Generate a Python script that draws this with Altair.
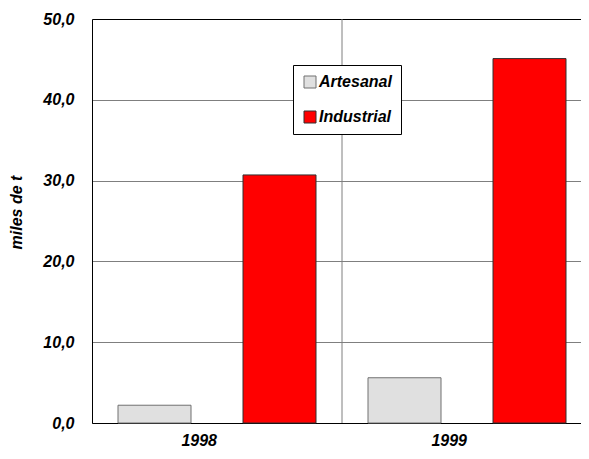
import altair as alt
import pandas as pd

years = ["1998", "1999"]
series = ["Artesanal", "Industrial"]
artesanal = [2.2, 5.6]
industrial = [30.7, 45.1]
y_ticks = [0, 10, 20, 30, 40, 50]

rows = []
for i, yr in enumerate(years):
    rows.append({"year": yr, "tipo": series[0], "value": artesanal[i]})
    rows.append({"year": yr, "tipo": series[1], "value": industrial[i]})
df = pd.DataFrame(rows)
sep = pd.DataFrame({"year": [years[1]]})

FONT = "Liberation Sans"

xscale = alt.Scale(domain=years, range=[0, 500], paddingInner=0, paddingOuter=0)

bars = alt.Chart(df).mark_bar(strokeWidth=1).encode(
    x=alt.X("year:N", scale=xscale, sort=years,
            axis=alt.Axis(title=None, labelAngle=0, ticks=False, tickSize=0,
                          labelFont=FONT, labelFontSize=16, labelFontWeight="bold",
                          labelFontStyle="italic", labelColor="black", labelPadding=17,
                          domainColor="black", domainWidth=1, grid=False)),
    xOffset=alt.XOffset("tipo:N", sort=series,
                        scale=alt.Scale(paddingInner=0.416, paddingOuter=0.208)),
    y=alt.Y("value:Q",
            scale=alt.Scale(domain=[0, 50], nice=False),
            axis=alt.Axis(title="miles de t", values=y_ticks,
                          labelExpr="replace(format(datum.value, '.1f'), '.', ',')",
                          ticks=False, tickSize=0,
                          labelFont=FONT, labelFontSize=16, labelFontWeight="bold",
                          labelFontStyle="italic", labelColor="black", labelPadding=18,
                          titleFont=FONT, titleFontSize=16, titleFontWeight="bold",
                          titleFontStyle="italic", titleColor="black",
                          titleAngle=270, titleBaseline="middle", titleAlign="center",
                          titleX=-76, titleY=193,
                          domainColor="black", domainWidth=1,
                          grid=True, gridWidth=1,
                          gridColor=alt.ExprRef("datum.value >= 50 ? 'black' : '#7f7f7f'"))),
    color=alt.Color("tipo:N", sort=series,
                    scale=alt.Scale(domain=series, range=["#e0e0e0", "#ff0000"]),
                    legend=alt.Legend(title=None, orient="none", legendX=201, legendY=46,
                                      strokeColor="black", fillColor="white", padding=9,
                                      labelFont=FONT, labelFontSize=16, labelFontWeight="bold",
                                      labelFontStyle="italic", labelColor="black",
                                      symbolType="square", symbolSize=144,
                                      symbolStrokeColor="#404040", symbolStrokeWidth=1,
                                      rowPadding=19, labelOffset=1)),
    stroke=alt.Stroke("tipo:N", sort=series,
                      scale=alt.Scale(domain=series, range=["#707070", "#303030"]),
                      legend=None),
)

rule = alt.Chart(sep).mark_rule(color="#7f7f7f", strokeWidth=1).encode(
    x=alt.X("year:N", scale=xscale, bandPosition=0),
)

chart = alt.layer(rule, bars).properties(
    width=489, height=404,
    autosize=alt.AutoSizeParams(type="none"),
    padding={"left": 84, "top": 11, "right": 0, "bottom": 27},
).configure_view(stroke=None).configure(background="white")

chart.save("out.html", embed_options={"renderer": "svg", "actions": False})
